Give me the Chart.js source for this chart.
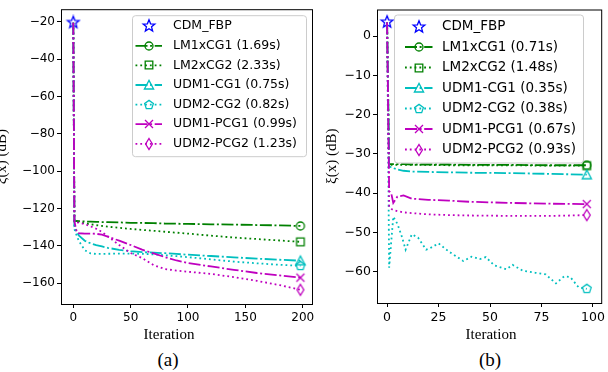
<!DOCTYPE html>
<html>
<head>
<meta charset="utf-8">
<script src="https://cdn.jsdelivr.net/npm/chart.js@4/dist/chart.umd.min.js"></script>
<style>
  body { margin: 0; width: 608px; height: 372px; background: #fff; position: relative; overflow: hidden; }
  canvas { position: absolute; }
  .lbl { position: absolute; font-family: 'Liberation Serif', serif; color: #000; white-space: nowrap; transform: translateX(-50%); }
</style>
</head>
<body>
<canvas id="chartA" width="323" height="330" style="left:-5px;top:0"></canvas>
<canvas id="chartB" width="290" height="330" style="left:318px;top:0"></canvas>
<div class="lbl" style="left:169px;top:327px;font-size:15px;line-height:15px">Iteration</div>
<div class="lbl" style="left:491px;top:327px;font-size:15px;line-height:15px">Iteration</div>
<div class="lbl" style="left:168px;top:350px;font-size:19px;line-height:19px">(a)</div>
<div class="lbl" style="left:490px;top:350px;font-size:19px;line-height:19px">(b)</div>
<script>
// ---- panel (a) ----
var itersA = [0, 1, 3, 5, 10, 15, 20, 25, 30, 40, 50, 60, 70, 80, 90, 100, 120, 140, 160, 180, 198];
var fbpA = -20.3;
var lm1A  = [-20.5, -126.8, -126.6, -126.7, -126.9, -127.0, -127.1, -127.2, -127.3, -127.4, -127.6, -127.7, -127.8, -128.0, -128.1, -128.2, -128.4, -128.6, -128.8, -129.0, -129.3];
var lm2A  = [-20.5, -126.8, -127.0, -127.3, -127.9, -128.4, -128.9, -129.3, -129.7, -130.3, -130.9, -131.4, -131.9, -132.4, -132.9, -133.4, -134.5, -135.5, -136.3, -137.1, -137.8];
var udm1cgA = [-20.5, -129.5, -132.5, -134.5, -137.2, -138.6, -139.6, -140.3, -141.0, -142.1, -142.8, -143.3, -143.6, -143.9, -144.3, -144.7, -145.4, -146.1, -146.8, -147.4, -147.9];
var udm2cgA = [-20.5, -131.0, -134.5, -137.5, -142.3, -144.0, -144.3, -144.3, -144.2, -144.1, -144.1, -144.2, -144.5, -145.0, -145.5, -146.0, -147.2, -148.4, -149.3, -150.1, -150.7];
var udm1pcgA = [-20.5, -127.0, -132.5, -133.2, -133.4, -133.4, -133.5, -134.0, -135.0, -137.2, -139.5, -142.0, -144.0, -146.0, -147.8, -149.2, -151.0, -152.8, -154.5, -155.8, -157.0];
var udm2pcgA = [-20.5, -127.0, -127.3, -127.6, -128.3, -129.5, -130.8, -132.5, -134.8, -139.5, -143.8, -146.5, -150.3, -152.4, -153.2, -153.8, -155.0, -156.7, -158.7, -161.0, -163.5];
var labelsA = ['CDM_FBP', 'LM1xCG1 (1.69s)', 'LM2xCG2 (2.33s)', 'UDM1-CG1 (0.75s)', 'UDM2-CG2 (0.82s)', 'UDM1-PCG1 (0.99s)', 'UDM2-PCG2 (1.23s)'];
var xTicksA = [0, 50, 100, 150, 200];
var yTicksA = [-160, -140, -120, -100, -80, -60, -40, -20];

// ---- panel (b) ----
var itersB = [0, 1, 2, 3, 5, 8, 12, 20, 30, 40, 60, 80, 97];
var itersB2 = [0, 1, 3, 5, 7, 9, 12, 15, 19, 21, 25, 30, 37, 41, 45, 48, 52, 58, 61, 66, 72, 77, 82, 86, 89, 93, 97];
var fbpB = 3.6;
var lm1B  = [3.5, -32.6, -32.6, -32.6, -32.6, -32.6, -32.7, -32.7, -32.7, -32.8, -32.8, -32.9, -32.9];
var lm2B  = [3.5, -32.8, -32.8, -32.8, -32.8, -32.8, -32.8, -32.8, -32.9, -32.9, -32.9, -33.0, -33.0];
var udm1cgB = [3.5, -33.2, -33.4, -33.6, -34.0, -34.3, -34.5, -34.6, -34.7, -34.8, -34.9, -35.1, -35.3];
var udm2cgB = [3.5, -59.0, -46.0, -47.8, -50.8, -54.4, -50.5, -51.3, -54.4, -54.0, -52.8, -54.9, -57.3, -56.2, -56.8, -56.3, -58.4, -59.4, -58.3, -59.8, -60.3, -60.7, -63.0, -61.2, -61.4, -64.0, -64.4];
var udm1pcgB = [3.5, -39.5, -40.0, -42.5, -40.9, -40.6, -41.4, -41.7, -41.9, -42.2, -42.5, -42.7, -42.8];
var udm2pcgB = [3.5, -43.5, -44.0, -44.3, -44.6, -44.9, -45.1, -45.4, -45.6, -45.7, -45.8, -45.8, -45.6];
var labelsB = ['CDM_FBP', 'LM1xCG1 (0.71s)', 'LM2xCG2 (1.48s)', 'UDM1-CG1 (0.35s)', 'UDM2-CG2 (0.38s)', 'UDM1-PCG1 (0.67s)', 'UDM2-PCG2 (0.93s)'];
var xTicksB = [0, 25, 50, 75, 100];
var yTicksB = [-60, -50, -40, -30, -20, -10, 0];

// styles
var GREEN = '#008000', CYAN = '#00bfbf', MAGENTA = '#bf00bf', BLUE = '#0000ff';
var DASHDOT = [12, 2.6, 2, 2.6];
var DOTTED = [1.8, 3];

Chart.defaults.font.family = 'DejaVu Sans';
Chart.defaults.color = '#000';

// build open marker glyphs as small canvases
function makeMarker(shape, color) {
  var c = document.createElement('canvas');
  c.width = 16; c.height = 16;
  var g = c.getContext('2d');
  g.translate(8, 8);
  g.strokeStyle = color;
  g.lineWidth = 1.3;
  g.lineJoin = 'miter';
  g.beginPath();
  var i, a;
  if (shape === 'circle') {
    g.arc(0, 0, 4, 0, Math.PI * 2);
  } else if (shape === 'square') {
    g.rect(-3.8, -3.8, 7.6, 7.6);
  } else if (shape === 'triangle') {
    g.moveTo(0, -4.6); g.lineTo(4.6, 4); g.lineTo(-4.6, 4); g.closePath();
  } else if (shape === 'pentagon') {
    for (i = 0; i < 5; i++) {
      a = -Math.PI / 2 + i * 2 * Math.PI / 5;
      g.lineTo(4.6 * Math.cos(a), 4.6 * Math.sin(a));
    }
    g.closePath();
  } else if (shape === 'cross') {
    g.moveTo(-4, -4); g.lineTo(4, 4); g.moveTo(4, -4); g.lineTo(-4, 4);
  } else if (shape === 'diamond') {
    g.moveTo(0, -5.5); g.lineTo(3.4, 0); g.lineTo(0, 5.5); g.lineTo(-3.4, 0); g.closePath();
  } else if (shape === 'star') {
    for (i = 0; i < 10; i++) {
      a = -Math.PI / 2 + i * Math.PI / 5;
      var r = i % 2 ? 2.7 : 6.2;
      g.lineTo(r * Math.cos(a), r * Math.sin(a));
    }
    g.closePath();
  }
  g.stroke();
  return c;
}

function lineSet(label, xs, ys, color, dash, shape) {
  var last = xs.length - 1;
  var m = makeMarker(shape, color);
  return {
    label: label,
    data: xs.map(function(x, i) { return {x: x, y: ys[i]}; }),
    borderColor: color,
    borderWidth: 1.8,
    borderDash: dash,
    tension: 0,
    fill: false,
    pointStyle: m,
    marker: m,
    pointRadius: function(ctx) { return ctx.dataIndex === last ? 4 : 0; }
  };
}

function starSet(label, y) {
  var m = makeMarker('star', BLUE);
  return {
    label: label,
    data: [{x: 0, y: y}],
    showLine: false,
    borderColor: BLUE,
    borderWidth: 1.8,
    pointStyle: m,
    marker: m,
    pointRadius: 5
  };
}

// frame (four spines) + matplotlib style legend box inside the axes
var framePlugin = {
  id: 'frame',
  afterDraw: function(chart, args, opts) {
    var ctx = chart.ctx, a = chart.chartArea;
    ctx.save();
    ctx.strokeStyle = '#000';
    ctx.lineWidth = 1;
    ctx.strokeRect(a.left + 0.5, a.top + 0.5, a.right - a.left, a.bottom - a.top);

    var L = opts.legend;
    var bx = a.left + L.dx, by = a.top + L.dy;
    ctx.beginPath();
    ctx.roundRect(bx + 0.5, by + 0.5, L.w, L.h, 3);
    ctx.fillStyle = 'rgba(255,255,255,0.8)';
    ctx.fill();
    ctx.strokeStyle = '#cccccc';
    ctx.stroke();

    ctx.font = L.size + 'px "DejaVu Sans"';
    ctx.textBaseline = 'middle';
    chart.data.datasets.forEach(function(ds, i) {
      var y = by + L.row0 + i * L.rowGap;
      if (ds.showLine !== false) {
        ctx.beginPath();
        ctx.setLineDash(ds.borderDash || []);
        ctx.strokeStyle = ds.borderColor;
        ctx.lineWidth = ds.borderWidth;
        ctx.moveTo(bx + L.lineX0, y);
        ctx.lineTo(bx + L.lineX1, y);
        ctx.stroke();
        ctx.setLineDash([]);
      }
      var m = ds.marker;
      var mx = bx + (L.lineX0 + L.lineX1) / 2;
      ctx.drawImage(m, Math.round(mx - m.width / 2), Math.round(y - m.height / 2));
      ctx.fillStyle = '#000';
      ctx.fillText(ds.label, bx + L.textX, y);
    });
    ctx.restore();
  }
};

function minusSign(v) { return String(v).replace('-', '\u2212'); }

function makeChart(id, cfg) {
  var datasets = [
    starSet(cfg.labels[0], cfg.fbp),
    lineSet(cfg.labels[1], cfg.iters, cfg.series[0], GREEN, DASHDOT, 'circle'),
    lineSet(cfg.labels[2], cfg.iters, cfg.series[1], GREEN, DOTTED, 'square'),
    lineSet(cfg.labels[3], cfg.iters, cfg.series[2], CYAN, DASHDOT, 'triangle'),
    lineSet(cfg.labels[4], cfg.iters4 || cfg.iters, cfg.series[3], CYAN, DOTTED, 'pentagon'),
    lineSet(cfg.labels[5], cfg.iters, cfg.series[4], MAGENTA, DASHDOT, 'cross'),
    lineSet(cfg.labels[6], cfg.iters, cfg.series[5], MAGENTA, DOTTED, 'diamond')
  ];
  // later series on top, as in matplotlib
  datasets.forEach(function(ds, i) { ds.order = -i; });

  var tickFont = {family: 'DejaVu Sans', size: cfg.tickSize};
  return new Chart(document.getElementById(id), {
    type: 'line',
    data: {datasets: datasets},
    plugins: [framePlugin],
    options: {
      responsive: false,
      animation: false,
      events: [],
      layout: {autoPadding: false, padding: cfg.padding},
      plugins: {
        legend: {display: false},
        tooltip: {enabled: false},
        frame: {legend: cfg.legend}
      },
      scales: {
        x: {
          type: 'linear',
          min: cfg.xMin, max: cfg.xMax,
          border: {display: false},
          grid: {drawOnChartArea: false, drawTicks: true, tickLength: 4, tickColor: '#000', lineWidth: 1},
          ticks: {padding: 3, font: tickFont, color: '#000', maxRotation: 0, autoSkip: false, callback: minusSign},
          afterBuildTicks: function(s) { s.ticks = cfg.xTicks.map(function(v) { return {value: v}; }); },
          afterFit: function(s) { s.height = cfg.xAxisHeight; }
        },
        y: {
          type: 'linear',
          min: cfg.yMin, max: cfg.yMax,
          border: {display: false},
          grid: {drawOnChartArea: false, drawTicks: true, tickLength: 4, tickColor: '#000', lineWidth: 1},
          ticks: {padding: 2, font: tickFont, color: '#000', autoSkip: false, callback: minusSign},
          afterBuildTicks: function(s) { s.ticks = cfg.yTicks.map(function(v) { return {value: v}; }); },
          afterFit: function(s) { s.width = cfg.yAxisWidth; },
          title: {
            display: true,
            text: '\u03be(x) (dB)',
            color: '#000',
            font: {family: 'Liberation Serif', size: 15, lineHeight: 1},
            padding: {top: cfg.yTitlePad, bottom: 0}
          }
        }
      }
    }
  });
}

makeChart('chartA', {
  labels: labelsA, fbp: fbpA, iters: itersA,
  series: [lm1A, lm2A, udm1cgA, udm2cgA, udm1pcgA, udm2pcgA],
  xMin: -10.7, xMax: 208.1, yMin: -171.1, yMax: -13.2,
  xTicks: xTicksA, yTicks: yTicksA, tickSize: 12,
  padding: {left: 0, top: 1, right: 6, bottom: 0},
  yAxisWidth: 66, xAxisHeight: 26, yTitlePad: 0,
  legend: {dx: 71, dy: 6, w: 174, h: 141, row0: 11, rowGap: 19.6, lineX0: 3.5, lineX1: 30, textX: 41, size: 12.5}
});

makeChart('chartB', {
  labels: labelsB, fbp: fbpB, iters: itersB, iters4: itersB2,
  series: [lm1B, lm2B, udm1cgB, udm2cgB, udm1pcgB, udm2pcgB],
  xMin: -4.9, xMax: 104.0, yMin: -68.0, yMax: 6.8,
  xTicks: xTicksB, yTicks: yTicksB, tickSize: 12.5,
  padding: {left: 0, top: 2, right: 3, bottom: 0},
  yAxisWidth: 59, xAxisHeight: 27, yTitlePad: 7,
  legend: {dx: 17, dy: 5, w: 189, h: 148, row0: 12, rowGap: 20.5, lineX0: 11, lineX1: 38.5, textX: 48, size: 13.5}
});
</script>
</body>
</html>
